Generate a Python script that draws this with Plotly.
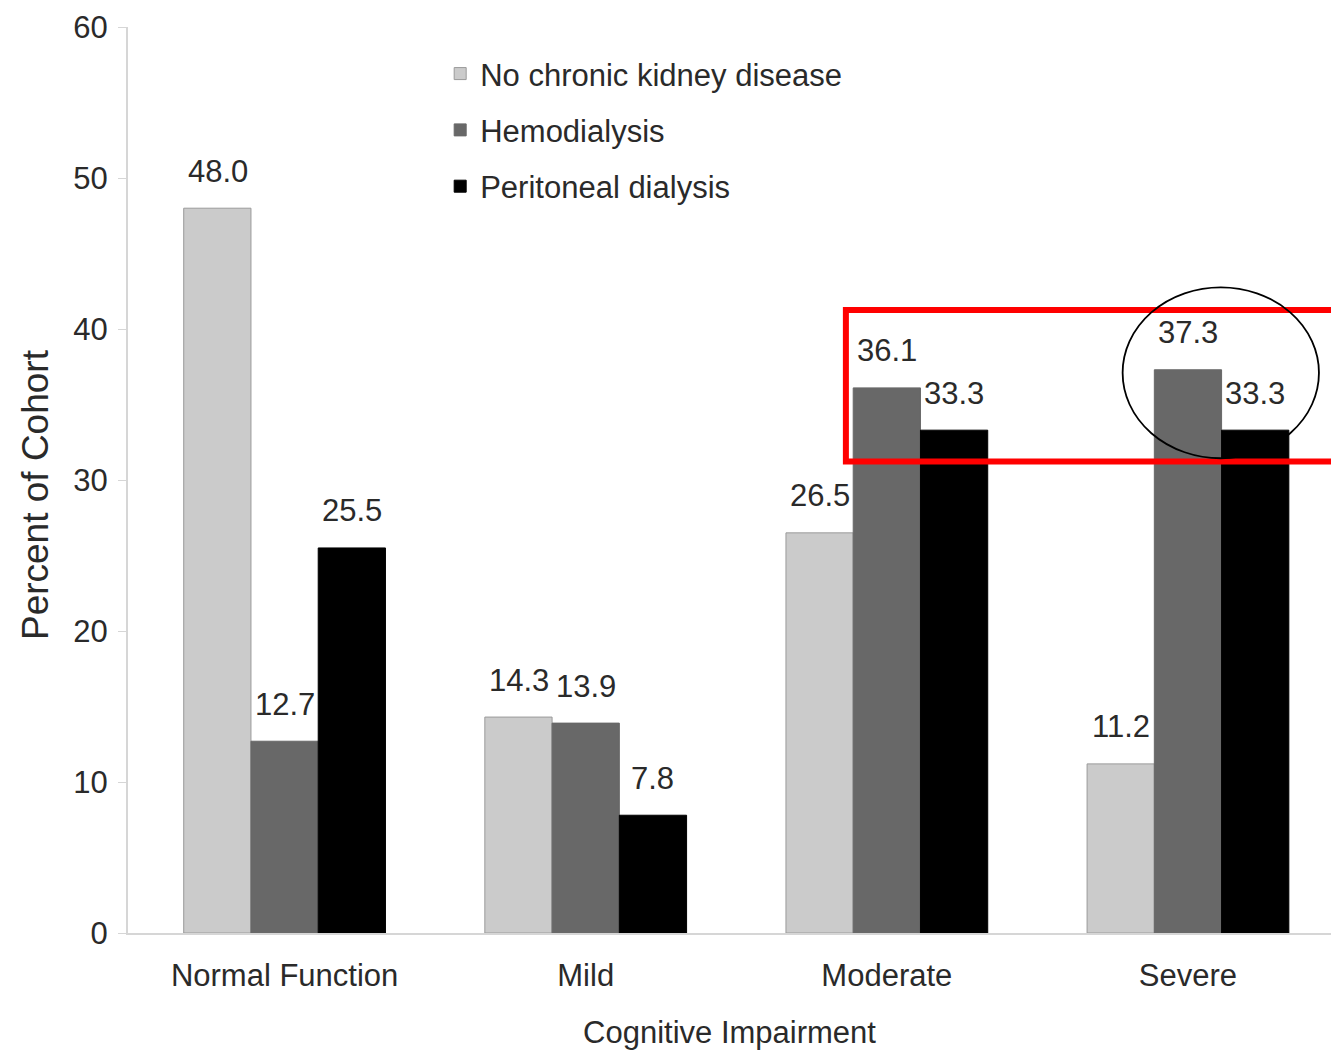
import plotly.graph_objects as go

# Cognitive impairment category by dialysis status
categories = ["Normal Function", "Mild", "Moderate", "Severe"]
no_ckd = [48.0, 14.3, 26.5, 11.2]
hemodialysis = [12.7, 13.9, 36.1, 37.3]
peritoneal = [25.5, 7.8, 33.3, 33.3]

series_names = ["No chronic kidney disease", "Hemodialysis", "Peritoneal dialysis"]
series_values = [no_ckd, hemodialysis, peritoneal]
series_colors = ["#cbcbcb", "#686868", "#000000"]

FONT = "Liberation Sans, Arial, sans-serif"
SIZE = 31
TEXT_COLOR = "#2a2a2a"

fig = go.Figure()
for name, vals, color in zip(series_names, series_values, series_colors):
    fig.add_trace(go.Bar(
        x=categories,
        y=vals,
        name=name,
        legendgroup=name,
        marker=dict(color=color,
                    line=dict(color="#9a9a9a" if color == "#cbcbcb" else color, width=1)),
    ))

# value labels sit a fixed distance above each bar
bar_shift = [-67, 0, 67]
annotations = []
for vals, dx in zip(series_values, bar_shift):
    for cat, v in zip(categories, vals):
        annotations.append(dict(
            x=cat, y=v, xref="x", yref="y",
            text=f"{v:.1f}", showarrow=False,
            xshift=dx, yshift=37, yanchor="middle",
            font=dict(family=FONT, size=SIZE, color=TEXT_COLOR),
        ))

# rotated y-axis title
annotations.append(dict(
    text="Percent of Cohort", textangle=-90,
    xref="paper", yref="paper", x=-0.0773, y=0.4834,
    xanchor="center", yanchor="middle", showarrow=False,
    font=dict(family=FONT, size=37, color=TEXT_COLOR),
))

fig.update_layout(
    width=1331,
    height=1051,
    margin=dict(l=128, r=0, t=27, b=118),
    paper_bgcolor="white",
    plot_bgcolor="white",
    barmode="group",
    bargap=0.33,
    bargroupgap=0,
    font=dict(family=FONT, size=SIZE, color=TEXT_COLOR),
    legend=dict(
        x=0.2595, y=0.978, xanchor="left", yanchor="top",
        font=dict(family=FONT, size=SIZE, color=TEXT_COLOR),
        bgcolor="rgba(0,0,0,0)",
        itemwidth=30,
        tracegroupgap=13,
    ),
    xaxis=dict(
        range=[-0.52, 3.475],
        showline=True, linecolor="#d6d6d6", linewidth=2,
        ticks="", showgrid=False,
        ticklabelstandoff=14,
        tickfont=dict(family=FONT, size=SIZE, color=TEXT_COLOR),
        title=dict(text="Cognitive Impairment", standoff=29,
                   font=dict(family=FONT, size=SIZE, color=TEXT_COLOR)),
    ),
    yaxis=dict(
        range=[0, 60],
        tickvals=[0, 10, 20, 30, 40, 50, 60],
        showline=True, linecolor="#d6d6d6", linewidth=2,
        ticks="outside", ticklen=8, tickcolor="#d6d6d6", tickwidth=1,
        ticklabelstandoff=4,
        showgrid=False, zeroline=False,
        tickfont=dict(family=FONT, size=SIZE, color=TEXT_COLOR),
    ),
    annotations=annotations,
    shapes=[
        # highlight box around the dialysis bars of the two impaired groups
        dict(type="rect", xref="x", yref="y",
             x0=1.864, x1=4.2, y0=31.23, y1=41.26,
             line=dict(color="#ff0000", width=6)),
        # ring around the severe group
        dict(type="circle", xref="x", yref="y",
             x0=2.783, x1=3.435, y0=31.44, y1=42.76,
             line=dict(color="#000000", width=1.8)),
    ],
)

fig.write_html("out.html")
